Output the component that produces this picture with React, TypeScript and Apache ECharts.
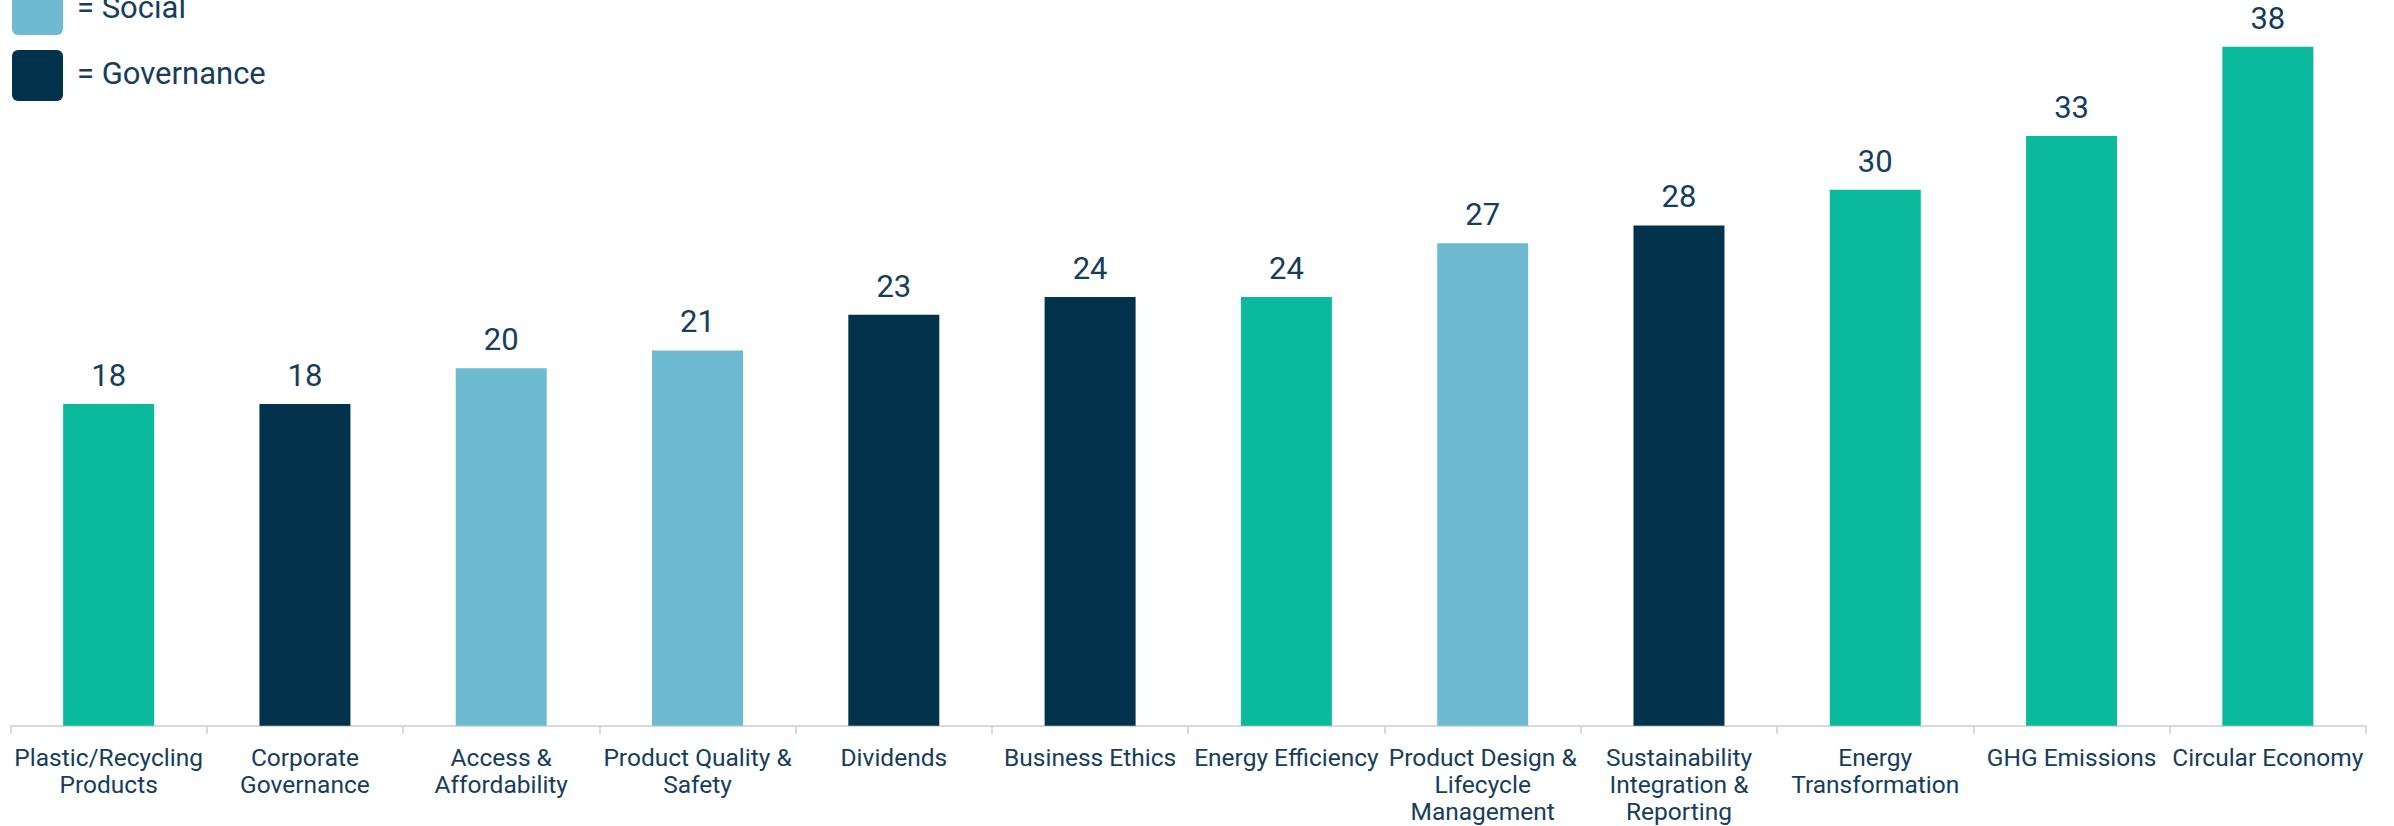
import React, { useEffect, useRef } from "react";
import * as echarts from "echarts";

const categories = [
  "Plastic/Recycling\nProducts",
  "Corporate\nGovernance",
  "Access &\nAffordability",
  "Product Quality &\nSafety",
  "Dividends",
  "Business Ethics",
  "Energy Efficiency",
  "Product Design &\nLifecycle\nManagement",
  "Sustainability\nIntegration &\nReporting",
  "Energy\nTransformation",
  "GHG Emissions",
  "Circular Economy",
];

const values = [18, 18, 20, 21, 23, 24, 24, 27, 28, 30, 33, 38];

const pillars = ["E", "G", "S", "S", "G", "G", "E", "S", "G", "E", "E", "E"];

const pillarColors: Record<string, string> = {
  E: "#0BB99D",
  S: "#6EBAD0",
  G: "#03324C",
};

const legendItems = [
  { label: "= Social", key: "S" },
  { label: "= Governance", key: "G" },
];

const TEXT = "#163D5C";
const FONT = "Roboto";

export default function App() {
  const ref = useRef<HTMLDivElement>(null);

  useEffect(() => {
    if (!ref.current) return;
    const chart = echarts.init(ref.current, undefined, { renderer: "svg" });

    const legendGraphics: any[] = [];
    legendItems.forEach((it, i) => {
      const cy = 8.5 + i * 66;
      legendGraphics.push({
        type: "rect",
        shape: { x: 12, y: cy - 25.5 + 1, width: 51, height: 51, r: 6 },
        style: { fill: pillarColors[it.key] },
      });
      legendGraphics.push({
        type: "text",
        x: 77,
        y: cy - 1,
        style: {
          text: it.label,
          fill: TEXT,
          font: `31px ${FONT}`,
          verticalAlign: "middle",
          align: "left",
        },
      });
    });

    chart.setOption({
      animation: false,
      backgroundColor: "#ffffff",
      grid: { left: 10.5, right: 28, top: 11, bottom: 100.3, containLabel: false },
      xAxis: {
        type: "category",
        data: categories,
        boundaryGap: true,
        axisLine: { show: true, lineStyle: { color: "#D9D9D9", width: 2 } },
        axisTick: { show: true, length: 8, lineStyle: { color: "#D9D9D9", width: 2 } },
        axisLabel: {
          interval: 0,
          margin: 18,
          color: TEXT,
          fontFamily: FONT,
          fontSize: 24.5,
          lineHeight: 27,
          align: "center",
        },
      },
      yAxis: {
        type: "value",
        min: 0,
        max: 40,
        show: false,
        splitLine: { show: false },
      },
      series: [
        {
          type: "bar",
          barWidth: 91,
          data: values.map((v, i) => ({
            value: v,
            itemStyle: { color: pillarColors[pillars[i]] },
          })),
          label: {
            show: true,
            position: "top",
            distance: 13,
            color: TEXT,
            fontFamily: FONT,
            fontSize: 31,
          },
        },
      ],
      graphic: legendGraphics,
    });

    return () => chart.dispose();
  }, []);

  return (
    <div
      ref={ref}
      style={{ position: "fixed", left: 0, top: 0, width: 2394, height: 826 }}
    />
  );
}
